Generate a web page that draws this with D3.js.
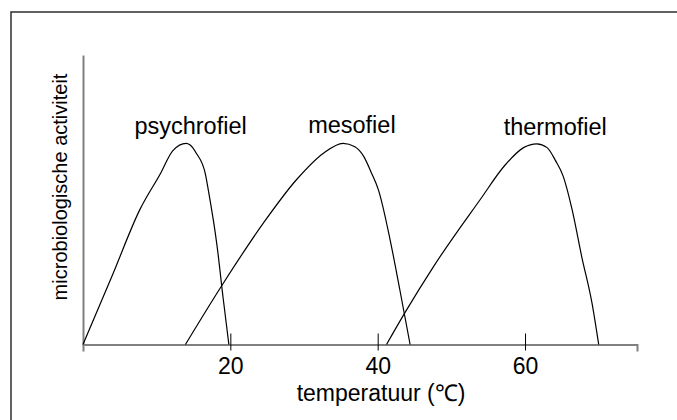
<!DOCTYPE html>
<html>
<head>
<meta charset="utf-8">
<script src="https://cdn.jsdelivr.net/npm/d3@7"></script>
<style>
  body { margin: 0; background: #fff; }
  text { font-family: "Liberation Sans", Arial, sans-serif; fill: #000; }
</style>
</head>
<body>
<script>
// temperature (C) and relative activity
var psychroTemp = [0, 4, 7.7, 10.5, 12.2, 14, 14.5, 15.4, 16.6, 17, 18.2, 19, 19.8];
var psychroAct  = [0, 24, 46.5, 59, 67, 69.5, 69, 66, 59, 53.5, 34, 16.5, 0];

var mesoTemp = [13.9, 19, 24.5, 29, 32.6, 35.3, 36.9, 38.1, 39.2, 40.1, 41.7, 43, 44.4];
var mesoAct  = [0, 21, 42, 57, 66, 69.5, 68.3, 65, 59, 53.4, 36, 19, 0];

var thermoTemp = [41.2, 43.7, 47.6, 53.9, 57.3, 59.8, 61.6, 63, 64.1, 65.2, 66.4, 67.7, 69.1, 70];
var thermoAct  = [0, 11, 27, 50, 62, 68, 69.3, 68, 63.7, 58, 46.5, 30.3, 14.2, 0];

var groupNames = ["psychrofiel", "mesofiel", "thermofiel"];
var groupLabelTemp = [14.6, 36.5, 64.1];
var groupLabelAct = [72.6, 72.9, 72.2];

var xTicks = [20, 40, 60];
var xTitle = "temperatuur (\u2103)";
var yTitle = "microbiologische activiteit";

var width = 677, height = 420;

var svg = d3.select("body").append("svg")
    .attr("width", width)
    .attr("height", height);

// frame, only top and left edges are visible
svg.append("rect")
    .attr("x", 11)
    .attr("y", 12)
    .attr("width", 720)
    .attr("height", 460)
    .attr("fill", "none")
    .attr("stroke", "#3a3a3a")
    .attr("stroke-width", 1.6);

var x = d3.scaleLinear().domain([0, 75.2]).range([83, 637]);
var y = d3.scaleLinear().domain([0, 100]).range([344.5, 55]);

// x axis
var xAxis = svg.append("g")
    .attr("transform", "translate(0," + y(0) + ")")
    .call(d3.axisBottom(x).tickValues(xTicks).tickSizeOuter(0).tickSize(7));

xAxis.select(".domain")
    .attr("stroke", "#808080")
    .attr("stroke-width", 2);
xAxis.selectAll(".tick line")
    .attr("y1", -11)
    .attr("y2", 6)
    .attr("stroke", "#000");
xAxis.selectAll(".tick text")
    .attr("y", 29.5)
    .attr("dy", 0)
    .style("font-size", "23px")
    .style("font-family", "'Liberation Sans', Arial, sans-serif")
    .attr("fill", "#000");

// y axis, no ticks
var yAxis = svg.append("g")
    .attr("transform", "translate(" + x(0) + ",0)")
    .call(d3.axisLeft(y).ticks(0).tickSizeOuter(0));
yAxis.select(".domain")
    .attr("stroke", "#808080")
    .attr("stroke-width", 2);

svg.append("text")
    .attr("x", 381)
    .attr("y", 401)
    .attr("text-anchor", "middle")
    .style("font-size", "23px")
    .text(xTitle);

svg.append("text")
    .attr("transform", "translate(67," + 187 + ") rotate(-90)")
    .attr("text-anchor", "middle")
    .style("font-size", "20px")
    .text(yTitle);

// curves
var line = d3.line()
    .x(function(d) { return x(d[0]); })
    .y(function(d) { return y(d[1]); })
    .curve(d3.curveMonotoneX);

var series = [
  d3.zip(psychroTemp, psychroAct),
  d3.zip(mesoTemp, mesoAct),
  d3.zip(thermoTemp, thermoAct)
];

svg.selectAll("path.curve")
    .data(series)
    .enter().append("path")
    .attr("class", "curve")
    .attr("d", line)
    .attr("fill", "none")
    .attr("stroke", "#000")
    .attr("stroke-width", 1.2);

svg.selectAll("text.group")
    .data(groupNames)
    .enter().append("text")
    .attr("class", "group")
    .attr("x", function(d, i) { return x(groupLabelTemp[i]); })
    .attr("y", function(d, i) { return y(groupLabelAct[i]); })
    .attr("text-anchor", "middle")
    .style("font-size", "23.5px")
    .text(function(d) { return d; });
</script>
</body>
</html>
